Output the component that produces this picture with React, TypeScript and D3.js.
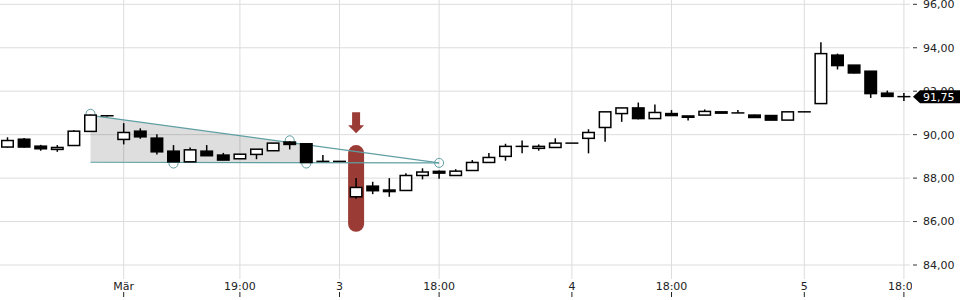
import React from "react";
import * as d3 from "d3";

const opens = [89.43, 89.79, 89.47, 89.32, 89.5, 90.15, 90.87, 89.78, 90.16, 89.84, 89.24, 88.75, 89.24, 89.06, 88.89, 89.09, 89.26, 89.66, 89.58, 88.77, 88.77, 87.14, 87.63, 87.45, 87.43, 88.12, 88.31, 88.12, 88.35, 88.72, 89.0, 89.46, 89.37, 89.41, 89.61, 89.83, 90.33, 90.97, 91.23, 90.74, 90.97, 90.86, 90.9, 91.05, 91.0, 90.9, 90.88, 90.67, 91.05, 91.43, 93.66, 93.2, 92.92, 91.91, 91.75];
const highs = [89.88, 89.85, 89.53, 89.52, 90.2, 90.92, 90.88, 90.53, 90.29, 90.02, 89.52, 89.41, 89.52, 89.16, 89.1, 89.33, 89.61, 89.7, 89.58, 89.06, 88.77, 88.0, 87.83, 88.0, 88.22, 88.45, 88.35, 88.41, 88.83, 89.16, 89.58, 89.73, 89.55, 89.83, 89.61, 90.25, 91.05, 91.23, 91.48, 91.39, 91.13, 90.86, 91.16, 91.05, 91.13, 90.92, 90.88, 91.07, 91.05, 94.25, 93.73, 93.2, 92.92, 92.03, 91.92];
const lows = [89.4, 89.4, 89.26, 89.21, 89.48, 90.13, 90.84, 89.55, 89.81, 89.09, 88.74, 88.75, 89.03, 88.83, 88.89, 88.87, 89.26, 89.32, 88.72, 88.77, 88.77, 87.05, 87.26, 87.14, 87.43, 87.94, 87.97, 88.12, 88.35, 88.72, 88.8, 89.14, 89.26, 89.41, 89.61, 89.14, 89.67, 90.59, 90.7, 90.74, 90.88, 90.65, 90.9, 90.99, 91.0, 90.79, 90.67, 90.67, 91.05, 91.43, 93.0, 92.81, 91.69, 91.76, 91.55];
const closes = [89.73, 89.43, 89.35, 89.41, 90.16, 90.9, 90.85, 90.1, 89.9, 89.21, 88.75, 89.3, 89.03, 88.83, 89.1, 89.33, 89.61, 89.55, 88.72, 88.77, 88.77, 87.57, 87.42, 87.38, 88.12, 88.28, 88.23, 88.32, 88.72, 88.95, 89.46, 89.46, 89.46, 89.61, 89.61, 90.1, 91.05, 91.23, 90.74, 91.02, 90.88, 90.8, 91.07, 90.99, 91.0, 90.79, 90.67, 91.05, 91.05, 93.73, 93.18, 92.84, 91.89, 91.76, 91.75];

const xTickIndex = [7, 14, 20, 26, 34, 40, 48, 54];
const xTickLabels = ["Mär", "19:00", "3", "18:00", "4", "18:00", "5", "18:00"];
const yTicks = [84, 86, 88, 90, 92, 94, 96];

// triangle pattern (index, value)
const upperLine = [[5, 90.89], [26, 88.7]];
const lowerLine = [[5, 88.73], [26, 88.7]];
const fillEndIndex = 18.4;
const pivotIdx = [5, 10, 17, 18, 26];
const pivotVal = [90.96, 88.67, 89.74, 88.67, 88.7];

// signal marker
const signalIndex = 21;
const signalRange = [85.53, 89.52];
const arrowRange = [90.07, 91.03];

const lastValue = 91.75;

const W = 960;
const H = 300;

export default function App() {
  const x = d3.scaleLinear().domain([0, 54]).range([7.5, 903.9]);
  const y = d3.scaleLinear().domain([84, 96]).range([265, 4.3]);
  const fmt = (v: number) => d3.format(".2f")(v).replace(".", ",");
  const teal = "#5f9fa3";
  const red = "#9b3b36";
  const font = "'DejaVu Sans', sans-serif";
  const bw = 11.5;

  const lineGen = d3.line<number[]>().x((d) => x(d[0])).y((d) => y(d[1]));
  const interp = (ln: number[][], i: number) => {
    const t = (i - ln[0][0]) / (ln[1][0] - ln[0][0]);
    return ln[0][1] + t * (ln[1][1] - ln[0][1]);
  };
  const fillPts = [
    [upperLine[0][0], upperLine[0][1]],
    [fillEndIndex, interp(upperLine, fillEndIndex)],
    [fillEndIndex, interp(lowerLine, fillEndIndex)],
    [lowerLine[0][0], lowerLine[0][1]],
  ];

  const sx = x(signalIndex);
  const aTop = y(arrowRange[1]);
  const aBot = y(arrowRange[0]);
  const headTop = aBot - 8;
  const arrowPath = `M${sx - 4},${aTop} L${sx + 4},${aTop} L${sx + 4},${headTop} L${sx + 8},${headTop} L${sx},${aBot} L${sx - 8},${headTop} L${sx - 4},${headTop} Z`;

  const yl = y(lastValue);

  return (
    <svg width={W} height={H} style={{ position: "absolute", left: 0, top: 0, background: "#fff" }} fontFamily={font}>
      <defs>
        <clipPath id="plotclip">
          <rect x={0} y={0} width={912} height={H} />
        </clipPath>
      </defs>
      {/* grid */}
      {yTicks.map((t) => (
        <line key={"hg" + t} x1={0} x2={910} y1={y(t)} y2={y(t)} stroke="#dcdcdc" strokeWidth={1} />
      ))}
      {xTickIndex.map((t) => (
        <line key={"vg" + t} x1={x(t)} x2={x(t)} y1={0} y2={279} stroke="#dcdcdc" strokeWidth={1} />
      ))}

      {/* triangle fill */}
      <path d={(lineGen(fillPts as any) || "") + "Z"} fill="#000" fillOpacity={0.13} />

      {/* signal marker */}
      <rect x={sx - 8} y={y(signalRange[1])} width={16} height={y(signalRange[0]) - y(signalRange[1])} rx={8} fill={red} />
      <path d={arrowPath} fill={red} />

      {/* triangle lines */}
      <path d={lineGen(upperLine as any) || ""} fill="none" stroke={teal} strokeWidth={1.2} />
      <path d={lineGen(lowerLine as any) || ""} fill="none" stroke={teal} strokeWidth={1.2} />
      {pivotIdx.map((p, i) => (
        <circle key={"pv" + i} cx={x(p)} cy={y(pivotVal[i])} r={4.5} fill="none" stroke={teal} strokeWidth={1} />
      ))}

      {/* candles */}
      {opens.map((o, i) => {
        const c = closes[i];
        const cx = x(i);
        const top = y(Math.max(o, c));
        const bot = y(Math.min(o, c));
        const down = c < o;
        const flat = Math.abs(bot - top) < 0.8;
        return (
          <g key={"c" + i}>
            <line x1={cx} x2={cx} y1={y(highs[i])} y2={y(lows[i])} stroke="#000" strokeWidth={1.5} />
            {flat ? (
              <line x1={cx - bw / 2 - 0.75} x2={cx + bw / 2 + 0.75} y1={top} y2={top} stroke="#000" strokeWidth={1.5} />
            ) : (
              <rect x={cx - bw / 2} y={top} width={bw} height={bot - top} fill={down ? "#000" : "#fff"} stroke="#000" strokeWidth={1.5} />
            )}
          </g>
        );
      })}

      {/* y axis */}
      {yTicks.map((t) => (
        <g key={"yt" + t}>
          <line x1={913} x2={917} y1={y(t)} y2={y(t)} stroke="#333" strokeWidth={1} />
          <text x={923} y={y(t)} dy="0.35em" fontSize={11} fill="#222">
            {fmt(t)}
          </text>
        </g>
      ))}

      {/* x axis */}
      <g clipPath="url(#plotclip)">
        {xTickIndex.map((t, i) => (
          <g key={"xt" + i}>
            <line x1={x(t)} x2={x(t)} y1={292} y2={297} stroke="#222" strokeWidth={1} />
            <text x={x(t)} y={290} textAnchor="middle" fontSize={11} fill="#222">
              {xTickLabels[i]}
            </text>
          </g>
        ))}
      </g>

      {/* last value tag */}
      <path d={`M913,${yl} L920,${yl - 6.5} L960,${yl - 6.5} L960,${yl + 6.5} L920,${yl + 6.5} Z`} fill="#000" />
      <text x={923} y={yl} dy="0.36em" fontSize={11} fill="#fff">
        {fmt(lastValue)}
      </text>
    </svg>
  );
}
